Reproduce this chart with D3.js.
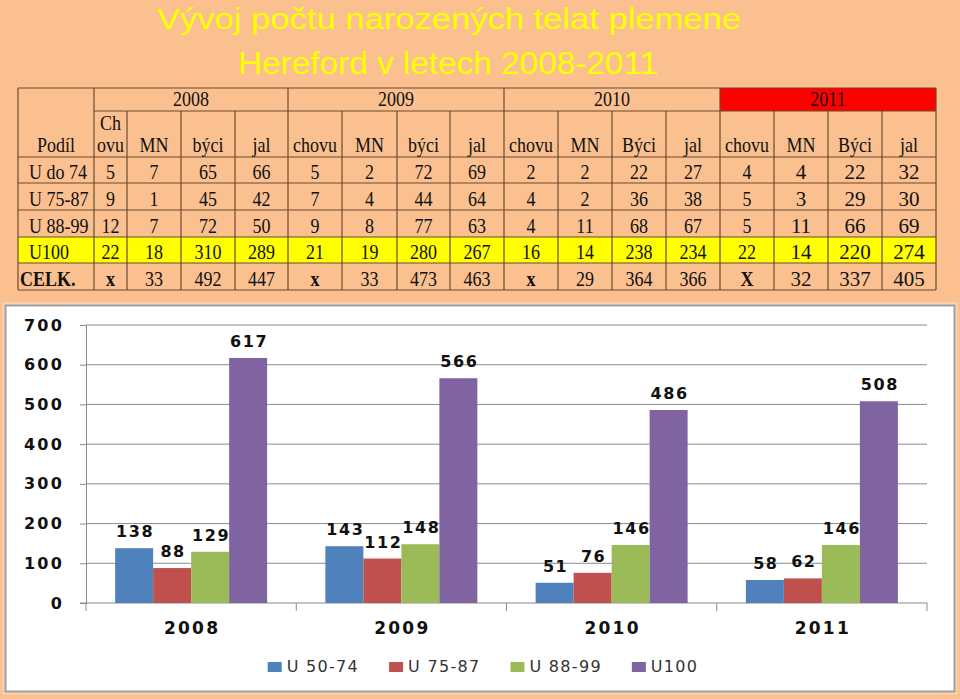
<!DOCTYPE html>
<html><head><meta charset="utf-8">
<script src="https://cdn.jsdelivr.net/npm/d3@7"></script>
<style>
html,body{margin:0;padding:0;background:#FAC090;}
svg{display:block;}
</style></head>
<body>
<svg id="c" width="960" height="699"></svg>
<script>
// ---------- DATA ----------
const titleLines = ["Vývoj počtu narozených telat plemene", "Hereford v letech 2008-2011"];
const tableYears = ["2008", "2009", "2010", "2011"];
const tableSubHeaders = [
  ["Ch\novu", "MN", "býci", "jal"],
  ["chovu", "MN", "býci", "jal"],
  ["chovu", "MN", "Býci", "jal"],
  ["chovu", "MN", "Býci", "jal"]
];
const tableCorner = "Podíl";
const tableRowLabels = ["U do 74", "U 75-87", "U 88-99", "U100", "CELK."];
const tableRows = [
  ["5","7","65","66", "5","2","72","69", "2","2","22","27", "4","4","22","32"],
  ["9","1","45","42", "7","4","44","64", "4","2","36","38", "5","3","29","30"],
  ["12","7","72","50", "9","8","77","63", "4","11","68","67", "5","11","66","69"],
  ["22","18","310","289", "21","19","280","267", "16","14","238","234", "22","14","220","274"],
  ["x","33","492","447", "x","33","473","463", "x","29","364","366", "X","32","337","405"]
];
const categories = ["2008", "2009", "2010", "2011"];
const seriesNames = ["U 50-74", "U 75-87", "U 88-99", "U100"];
const seriesValues = [
  [138, 143, 51, 58],
  [88, 112, 76, 62],
  [129, 148, 146, 146],
  [617, 566, 486, 508]
];
const yTicks = [0, 100, 200, 300, 400, 500, 600, 700];
const seriesColors = ["#4F81BD", "#C0504D", "#9BBB59", "#8064A2"];

// ---------- DRAW ----------
const svg = d3.select("#c");
svg.append("rect").attr("width",960).attr("height",699).attr("fill","#FAC090");

// Title
const tl = [{x:449,y:29,w:584,s:30},{x:448,y:74,w:420,s:31}];
titleLines.forEach((t,i)=>{
  svg.append("text").attr("x",tl[i].x).attr("y",tl[i].y)
    .attr("text-anchor","middle")
    .attr("font-family","'Liberation Sans', Arial, sans-serif")
    .attr("font-size",tl[i].s)
    .attr("fill","#FFFF00")
    .attr("textLength",tl[i].w).attr("lengthAdjust","spacingAndGlyphs")
    .text(t);
});

// Table
const colEdges = [18,94,127,181,235,288,342,397,450,504,558,612,666,720,774,828,882,936];
const rowEdges = [88,111,157,183,210,237,263,290];
const tg = svg.append("g");
const border = "#6b4a2e";
tg.append("rect").attr("x",colEdges[13]).attr("y",rowEdges[0]).attr("width",colEdges[17]-colEdges[13]).attr("height",rowEdges[1]-rowEdges[0]).attr("fill","#FF0000");
tg.append("rect").attr("x",colEdges[0]).attr("y",rowEdges[5]).attr("width",colEdges[17]-colEdges[0]).attr("height",rowEdges[6]-rowEdges[5]).attr("fill","#FFFF00");
function hline(x1,x2,y){tg.append("line").attr("x1",x1).attr("x2",x2).attr("y1",y).attr("y2",y).attr("stroke",border).attr("stroke-width",1.2);}
function vline(x,y1,y2){tg.append("line").attr("x1",x).attr("x2",x).attr("y1",y1).attr("y2",y2).attr("stroke",border).attr("stroke-width",1.2);}
hline(colEdges[0],colEdges[17],rowEdges[0]);
hline(colEdges[1],colEdges[17],rowEdges[1]);
for(let r=2;r<rowEdges.length;r++) hline(colEdges[0],colEdges[17],rowEdges[r]);
vline(colEdges[0],rowEdges[0],rowEdges[7]);
vline(colEdges[17],rowEdges[0],rowEdges[7]);
colEdges.forEach((x,i)=>{
  if(i===0||i===17) return;
  if(i===1||(i-1)%4===0) vline(x,rowEdges[0],rowEdges[7]);
  else vline(x,rowEdges[1],rowEdges[7]);
});
const serif = "'Liberation Serif', 'Times New Roman', serif";
function ttext(str,x,y,opts={}){
  const sy = opts.sy||1.15;
  return tg.append("text")
    .attr("transform",`translate(${x},${y}) scale(1,${sy})`)
    .attr("text-anchor",opts.anchor||"middle")
    .attr("font-family",serif)
    .attr("font-size",opts.size||18)
    .attr("font-weight",opts.bold?"bold":"normal")
    .attr("fill","#111")
    .text(str);
}
tableYears.forEach((y,i)=>{
  const x1 = colEdges[1+4*i], x2 = colEdges[5+4*i];
  ttext(y,(x1+x2)/2,106,{});
});
ttext(tableCorner,(colEdges[0]+colEdges[1])/2,152,{});
tableSubHeaders.forEach((grp,gi)=>{
  grp.forEach((h,hi)=>{
    const ci = 1+gi*4+hi;
    const cx = (colEdges[ci]+colEdges[ci+1])/2;
    const parts = h.split("\n");
    if(parts.length===2){
      ttext(parts[0],cx,130,{});
      ttext(parts[1],cx,152,{});
    } else ttext(h,cx,152,{});
  });
});
tableRowLabels.forEach((lab,ri)=>{
  const yb = rowEdges[ri+3]-4;
  const isCelk = ri===4;
  ttext(lab,isCelk?20:29,yb,{anchor:"start",bold:isCelk});
  tableRows[ri].forEach((v,vi)=>{
    const ci = 1+vi;
    const cx = (colEdges[ci]+colEdges[ci+1])/2;
    const big = vi>=13;
    const bold = (v==="x"||v==="X");
    if(big && !bold) ttext(v,cx,yb,{size:21,sy:1.02});
    else ttext(v,cx,yb,{bold:bold});
  });
});

// Chart box
svg.append("rect").attr("x",4).attr("y",304).attr("width",952).attr("height",389)
  .attr("fill","none").attr("stroke","#FCD3B0").attr("stroke-width",3);
svg.append("rect").attr("x",5.5).attr("y",305.5).attr("width",949).attr("height",386)
  .attr("fill","#FFFFFF").attr("stroke","#A0A0A0").attr("stroke-width",2);

const plotL = 86, plotR = 927, plotT = 325, plotB = 603;
const y = d3.scaleLinear().domain([0,700]).range([plotB,plotT]);
const x0 = d3.scaleBand().domain(categories).range([plotL,plotR]).padding(0);
const groupW = 152;
const x1 = d3.scaleBand().domain(seriesNames).range([0,groupW]).padding(0);
const cg = svg.append("g");
const gridCol = "#8A8A8A";

cg.selectAll(".grid").data(yTicks.filter(d=>d>0)).enter().append("line")
  .attr("x1",plotL).attr("x2",plotR).attr("y1",d=>y(d)).attr("y2",d=>y(d))
  .attr("stroke",gridCol).attr("stroke-width",1);

const yAxis = d3.axisLeft(y).tickValues(yTicks).tickSize(6).tickPadding(16).tickFormat(d3.format("d"));
const ya = cg.append("g").attr("transform",`translate(${plotL},0)`).call(yAxis);
ya.select(".domain").attr("stroke",gridCol);
ya.selectAll(".tick line").attr("stroke",gridCol);
ya.selectAll(".tick text")
  .attr("font-family","'DejaVu Sans', Verdana, sans-serif")
  .attr("font-size",16).attr("font-weight","bold").attr("fill","#111")
  .attr("letter-spacing",2.2);

const xa = cg.append("g").attr("transform",`translate(0,${plotB})`);
xa.append("line").attr("x1",plotL-6).attr("x2",plotR).attr("y1",0).attr("y2",0).attr("stroke",gridCol);
const bounds = categories.map(c=>x0(c)).concat([plotR]);
xa.selectAll(".xt").data(bounds).enter().append("line")
  .attr("x1",d=>d).attr("x2",d=>d).attr("y1",0).attr("y2",8).attr("stroke",gridCol);
xa.selectAll(".xl").data(categories).enter().append("text")
  .attr("x",d=>x0(d)+x0.bandwidth()/2+1).attr("y",31)
  .attr("text-anchor","middle")
  .attr("font-family","'DejaVu Sans', Verdana, sans-serif")
  .attr("font-size",17).attr("font-weight","bold").attr("fill","#111")
  .attr("letter-spacing",2.2)
  .text(d=>d);

const off = (x0.bandwidth()-groupW)/2;
const flat = [];
seriesNames.forEach((s,si)=>categories.forEach((c,ci)=>flat.push({s,si,c,v:seriesValues[si][ci]})));
cg.selectAll(".bar").data(flat).enter().append("rect")
  .attr("x",d=>x0(d.c)+off+x1(d.s))
  .attr("width",x1.bandwidth())
  .attr("y",d=>y(d.v)).attr("height",d=>plotB-y(d.v))
  .attr("fill",d=>seriesColors[d.si]);
cg.selectAll(".lbl").data(flat).enter().append("text")
  .attr("x",d=>x0(d.c)+off+x1(d.s)+x1.bandwidth()/2+1)
  .attr("y",d=>y(d.v)-11)
  .attr("text-anchor","middle")
  .attr("font-family","'DejaVu Sans', Verdana, sans-serif")
  .attr("font-size",16).attr("font-weight","bold").attr("fill","#111")
  .attr("letter-spacing",1.6)
  .text(d=>d.v);

const lg = svg.append("g");
const items = [];
seriesNames.forEach((s,i)=>{
  const g = lg.append("g");
  g.append("rect").attr("x",0).attr("y",-10).attr("width",14).attr("height",10).attr("fill",seriesColors[i]);
  const t = g.append("text").attr("x",19).attr("y",0)
    .attr("font-family","'DejaVu Sans', Verdana, sans-serif")
    .attr("font-size",16).attr("fill","#333").attr("letter-spacing",1.3)
    .text(s);
  items.push({g,w:19+t.node().getComputedTextLength()});
});
const gap = 30;
const total = d3.sum(items,d=>d.w)+gap*(items.length-1);
let cx = 483 - total/2;
items.forEach(it=>{it.g.attr("transform",`translate(${cx},672)`); cx += it.w+gap;});
</script>
</body></html>
